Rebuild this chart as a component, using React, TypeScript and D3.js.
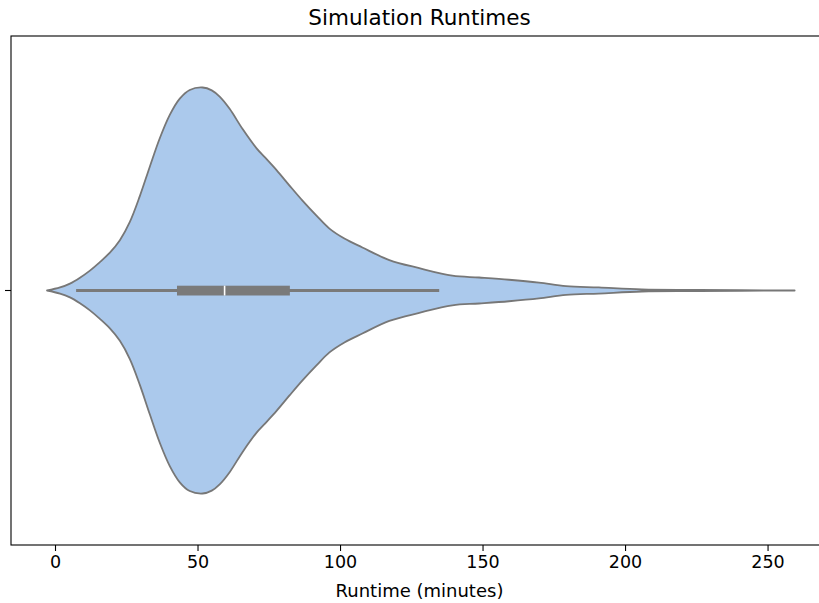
import React, { useEffect, useRef } from 'react';
import * as d3 from 'd3';

// density estimate along the runtime axis (relative height, peak = 100)
const runtimeGrid = [
  -2.8, 1.75, 5.25, 8.75, 12.25, 15.75, 19.26, 22.76, 26.26, 29.76, 33.26, 36.76,
  40.27, 43.77, 47.27, 51.8, 55.0, 57.77, 61.27, 65.83, 70.73, 73.5, 77.73, 82.28,
  86.83, 91.74, 96.29, 101.54, 107.84, 117.3, 127.8, 139.4, 148.8, 159.3, 169.8,
  179.3, 190.8, 205.9, 225.8, 259.5,
];
const densityValues = [
  0, 1.5, 3.4, 6.3, 9.8, 14.0, 18.7, 24.8, 33.8, 46.5, 61.0, 75.0,
  86.5, 94.5, 98.8, 100, 98.6, 95.5, 89.5, 79.5, 70.0, 65.8, 59.3, 51.7,
  44.3, 36.9, 30.5, 25.6, 21.2, 15.0, 11.0, 7.3, 6.4, 5.3, 3.9,
  2.2, 1.5, 0.5, 0.3, 0,
];

// box-plot summary (minutes)
const whiskerLow = 7.4;
const quartile1 = 42.8;
const medianRuntime = 59.5;
const quartile3 = 82.4;
const whiskerHigh = 134.8;

const xTicks = [0, 50, 100, 150, 200, 250];

const App = () => {
  const ref = useRef<SVGSVGElement>(null);

  useEffect(() => {
    const W = 819, H = 603;
    const m = { top: 36, right: 0, bottom: 58, left: 11 };
    const svg = d3.select(ref.current)
      .attr('width', W)
      .attr('height', H)
      .style('font-family', '"DejaVu Sans", sans-serif');
    svg.selectAll('*').remove();

    const plotH = H - m.top - m.bottom;
    const cy = m.top + plotH / 2;

    const x = d3.scaleLinear().domain([-15.44, 268.4]).range([m.left, W - m.right + 1]);
    const w = d3.scaleLinear().domain([0, 100]).range([0, 203]);

    const pts = runtimeGrid.map((r, i) => [r, densityValues[i]] as [number, number]);

    const area = d3.area<[number, number]>()
      .x(d => x(d[0]))
      .y0(d => cy + w(d[1]))
      .y1(d => cy - w(d[1]))
      .curve(d3.curveCatmullRom.alpha(0.5));

    svg.append('path')
      .attr('d', area(pts))
      .attr('fill', '#abc9ec')
      .attr('stroke', '#777777')
      .attr('stroke-width', 1.8)
      .attr('stroke-linejoin', 'round');

    // inner box
    svg.append('line')
      .attr('x1', x(whiskerLow)).attr('x2', x(whiskerHigh))
      .attr('y1', cy).attr('y2', cy)
      .attr('stroke', '#7a7a7a').attr('stroke-width', 3.2);
    svg.append('rect')
      .attr('x', x(quartile1)).attr('width', x(quartile3) - x(quartile1))
      .attr('y', cy - 4.8).attr('height', 9.8)
      .attr('fill', '#7a7a7a');
    svg.append('line')
      .attr('x1', x(medianRuntime)).attr('x2', x(medianRuntime))
      .attr('y1', cy - 4.8).attr('y2', cy + 5)
      .attr('stroke', '#ffffff').attr('stroke-width', 1.6);

    // x axis
    const xAxis = svg.append('g')
      .attr('transform', `translate(0,${H - m.bottom})`)
      .call(d3.axisBottom(x).tickValues(xTicks).tickSize(6).tickPadding(5).tickFormat(d3.format('d')));
    xAxis.select('.domain').remove();
    xAxis.selectAll('line').attr('stroke', '#000').attr('stroke-width', 1.1);
    xAxis.selectAll('text')
      .attr('font-size', 17.5)
      .attr('font-family', '"DejaVu Sans", sans-serif')
      .attr('fill', '#000');

    // y tick (no label)
    svg.append('line')
      .attr('x1', m.left - 6).attr('x2', m.left)
      .attr('y1', cy).attr('y2', cy)
      .attr('stroke', '#000').attr('stroke-width', 1.1);

    // spines
    svg.append('rect')
      .attr('x', m.left).attr('y', m.top)
      .attr('width', W - m.left + 5).attr('height', plotH)
      .attr('fill', 'none').attr('stroke', '#000').attr('stroke-width', 1.1);

    svg.append('text')
      .attr('x', (335 + 504) / 2)
      .attr('y', 597)
      .attr('text-anchor', 'middle')
      .attr('font-size', 18)
      .text('Runtime (minutes)');

    svg.append('text')
      .attr('x', (307 + 532) / 2)
      .attr('y', 25)
      .attr('text-anchor', 'middle')
      .attr('font-size', 21.5)
      .text('Simulation Runtimes');
  }, []);

  return <svg ref={ref} style={{ position: 'absolute', left: 0, top: 0 }}></svg>;
};

export default App;
